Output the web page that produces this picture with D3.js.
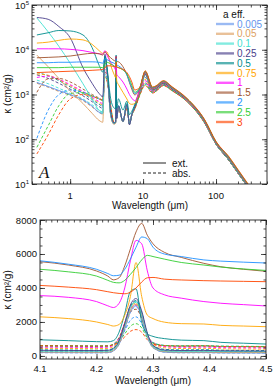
<!DOCTYPE html>
<html>
<head>
<meta charset="utf-8">
<script src="https://cdn.jsdelivr.net/npm/d3@7"></script>
<style>
  body { margin: 0; background: #fff; }
  svg { font-family: "Liberation Sans", Arial, sans-serif; }
</style>
</head>
<body>
<svg id="chart" width="274" height="387"></svg>
<script>
// grain sizes (a eff., micron) and their colours
var sizes = ["0.005", "0.05", "0.1", "0.25", "0.5", "0.75", "1", "1.5", "2", "2.5", "3"];
var colors = ["#6495ed", "#dd9f62", "#40e0d0", "#483d8b", "#008b8b", "#ffa500",
              "#ff00ff", "#a0522d", "#1e90ff", "#32cd32", "#ff4500"];

// top panel: wavelength grid (micron) and kappa (cm2/g), one row per size
var waveTop = [0.35, 0.5, 0.7, 1, 1.5, 2, 2.5, 2.8, 3.0, 3.2, 3.6, 4.0, 4.2, 4.27, 4.35, 4.6, 5.3,
               6.0, 6.5, 7.0, 7.7, 9, 10.7, 13.5, 15, 19, 25, 40, 70, 100, 150, 200, 300];

var extTop = [
  [1860,1510,1230,1000,760,550,400,380, 7000,3550,355,224,240,6300,300,560,250,630,220,355,560, 1200,2880,1260,1350,1780,1320,740,240,79,35,18,7],
  [7590,4170,2290,1200,630,380,263,240, 7080,3550,340,215,230,6300,290,550,245,620,215,350,550, 1190,2880,1260,1350,1780,1320,740,240,79,35,18,7],
  [51300,25100,12000,5010,1740,794,437,380, 7080,3600,360,225,240,6400,300,560,250,630,222,355,560, 1200,2900,1270,1360,1790,1330,745,242,80,35,18,7],
  [52500,47900,33100,18600,3980,1780,1050,890, 7940,4000,400,230,240,6600,290,560,250,600,210,355,525, 1200,2880,1280,1370,1800,1340,750,245,81,36,18.5,7.2],
  [21400,24000,26900,26300,21400,11200,4470,3160, 7080,3980,800,500,480,7600,500,800,450,710,355,420,600, 1260,2950,1300,1390,1820,1350,760,248,82,36,18.5,7.2],
  [14100,14800,16200,17400,16600,13200,9550,8300, 9100,8900,4470,2820,2400,6600,2000,1660,1120,794,631,603,631, 1260,3020,1320,1410,1860,1380,770,252,83,37,19,7.4],
  [10500,10500,10500,10200,9550,8710,8130,7940, 9550,7590,5250,4170,3550,7080,2820,2510,1900,1320,1000,830,724, 1300,3090,1350,1440,1900,1400,780,256,85,38,19.5,7.6],
  [6610,6760,6920,7240,7940,8320,8130,7590, 8910,7940,6610,5750,5620,7080,5500,5370,4170,2750,1860,1320,980, 1350,3160,1380,1470,1930,1420,790,260,86,38.5,19.8,7.7],
  [5130,5130,5250,5250,5370,5370,5250,5010, 6310,6030,5370,5010,4790,6310,4570,4370,3630,2750,1950,1450,1050, 1380,3240,1410,1500,1970,1440,800,264,87,39,20,7.8],
  [3980,3980,3980,4070,4070,4070,4070,3980, 4790,5250,4790,4370,4170,5620,4070,3980,3550,2880,2190,1620,1120, 1410,3310,1440,1530,2000,1460,810,268,88,40,20.5,8],
  [3090,3160,3240,3310,3390,3470,3550,3630, 3980,4370,4370,4170,4170,5250,4170,3980,3630,3090,2510,1910,1260, 1450,3390,1470,1560,2040,1490,820,272,89,41,21,8.2]
];

var absTop = [
  [1820,1480,1200,980,745,540,392,372, 6900,3500,348,220,235,6200,295,550,245,620,216,348,550, 1180,2830,1240,1330,1750,1300,728,236,78,34,17.6,6.9],
  [1780,1450,1170,955,724,525,398,363, 6950,3520,345,218,232,6250,292,545,243,615,214,345,545, 1170,2820,1235,1325,1745,1295,726,235,78,34,17.5,6.9],
  [2090,1740,1380,1070,794,589,447,407, 6800,3480,350,222,236,6150,296,550,246,615,216,348,548, 1175,2800,1230,1320,1740,1290,724,235,78,34,17.5,6.9],
  [2750,2290,1780,1320,933,692,537,490, 6310,3390,355,224,238,5750,298,550,248,600,217,350,545, 1160,2690,1220,1310,1730,1285,722,235,78,34,17.5,6.9],
  [3090,2630,2040,1480,1050,776,603,550, 5010,3160,380,226,240,4790,300,540,250,580,220,350,535, 1130,2400,1200,1290,1700,1270,718,234,78,34,17.5,6.9],
  [2880,2690,2140,1580,1120,832,646,589, 4170,2950,420,228,242,4170,302,530,252,560,222,350,525, 1100,2190,1180,1270,1680,1260,714,233,78,34,17.5,6.9],
  [2400,2570,2190,1660,1170,871,692,631, 3720,2750,450,230,244,3720,304,520,254,545,224,350,515, 1070,2040,1160,1250,1660,1250,710,232,78,34,17.5,6.9],
  [1120,2240,2290,1910,1320,1000,832,759, 3160,2510,500,232,246,3160,306,510,256,525,226,348,500, 1030,1860,1130,1220,1630,1240,706,231,78,34,17.5,6.9],
  [105,447,1000,1260,1120,933,794,741, 2820,2290,520,234,248,2820,308,500,258,510,228,346,490, 1000,1740,1110,1200,1610,1230,702,230,78,34,17.5,6.9],
  [66,200,562,1050,1100,933,794,741, 2570,2140,540,236,250,2570,310,495,260,500,230,344,480, 980,1660,1090,1185,1590,1220,698,229,78,34,17.5,6.9],
  [47,126,355,794,1000,912,794,741, 2400,2000,555,238,252,2400,312,490,262,490,232,342,470, 960,1590,1070,1170,1570,1210,694,228,78,34,17.5,6.9]
];

// bottom panel: zoom on the 4.27 micron band
var waveBot = [4.10, 4.15, 4.20, 4.22, 4.23, 4.24, 4.25, 4.26, 4.27, 4.28, 4.29, 4.30, 4.32, 4.35, 4.39, 4.42, 4.46, 4.50];

var extBot = [
  [200,195,190,200,300,700,1600,2600,2950,2300,1150,500,230,195,200,185,180,175],
  [230,225,220,230,330,750,1700,2700,3050,2400,1200,520,260,225,230,215,210,205],
  [280,275,270,280,390,820,1800,2850,3200,2500,1250,560,300,270,280,260,255,250],
  [330,322,315,330,450,900,1900,3000,3380,2650,1350,620,350,320,330,305,298,290],
  [950,900,840,830,900,1400,2500,3800,3950,2000,1300,1150,1020,930,900,800,750,700],
  [2300,2200,2000,1850,1760,1850,2400,3500,5500,3500,2400,2200,1990,1900,1880,1800,1760,1720],
  [3550,3450,3200,2950,2850,3100,4000,5600,6800,6600,5000,4000,3600,3400,3200,3100,3020,2940],
  [5550,5350,5000,4700,4480,4600,5300,6300,7300,7800,7100,6600,6100,5800,5450,5250,5100,4980],
  [5600,5400,5100,4850,4720,4750,5100,5700,6400,7000,6900,6400,6000,5850,5650,5580,5520,5470],
  [5100,4950,4700,4450,4330,4300,4450,4800,5200,5650,5920,5850,5700,5500,5350,5230,5120,5030],
  [4150,4050,3900,3780,3720,3680,3660,3750,4000,4350,4600,4620,4520,4470,4430,4410,4390,4370]
];

var absBot = [
  [190,185,180,190,290,680,1550,2550,2900,2250,1100,480,220,185,190,175,170,165],
  [215,210,205,215,315,720,1650,2650,3000,2350,1150,500,245,210,215,200,195,190],
  [250,245,240,250,360,780,1750,2800,3150,2450,1200,530,275,245,255,235,230,225],
  [290,283,276,290,400,840,1820,2900,3250,2550,1280,580,315,285,295,270,263,255],
  [360,350,340,355,470,920,1950,2950,3250,2500,1250,600,390,355,365,340,330,320],
  [450,440,430,445,560,980,1950,2900,3100,2400,1250,680,480,440,450,420,410,400],
  [520,510,500,515,640,1050,1950,2800,3000,2350,1250,740,550,510,520,490,480,470],
  [580,570,560,575,700,1080,1900,2600,2750,2200,1250,790,610,570,580,550,540,530],
  [600,590,580,590,680,950,1500,2100,2300,1900,1150,780,620,590,600,570,560,550],
  [610,600,590,600,680,880,1300,1750,1900,1650,1050,750,620,595,605,575,565,555],
  [600,590,580,590,660,820,1120,1450,1550,1400,950,700,600,580,590,560,550,540]
];

var topXTicks = [1, 10, 100];
var topYTicks = [10, 100, 1000, 10000, 100000];
var botXTicks = [4.1, 4.2, 4.3, 4.4, 4.5];
var botYTicks = [0, 2000, 4000, 6000, 8000];

var svg = d3.select("#chart");
var topBox = {left: 32, right: 267, top: 5, bottom: 184};
var botBox = {left: 40, right: 266, top: 220, bottom: 359};

var xTop = d3.scaleLog().domain([0.3, 500]).range([topBox.left, topBox.right]);
var yTop = d3.scaleLog().domain([10, 100000]).range([topBox.bottom, topBox.top]);
var xBot = d3.scaleLinear().domain([4.1, 4.5]).range([botBox.left, botBox.right]);
var yBot = d3.scaleLinear().domain([-180, 8000]).range([botBox.bottom, botBox.top]);

function clip(id, box) {
  svg.append("clipPath").attr("id", id)
    .append("rect")
      .attr("x", box.left).attr("y", box.top)
      .attr("width", box.right - box.left).attr("height", box.bottom - box.top);
}
clip("clipTop", topBox);
clip("clipBot", botBox);

function drawLines(id, x, y, waves, ext, abs) {
  var g = svg.append("g").attr("clip-path", "url(#" + id + ")");
  var line = d3.line()
      .x(function(d, i) { return x(waves[i]); })
      .y(function(d) { return y(d); })
      .curve(d3.curveMonotoneX);
  sizes.forEach(function(s, k) {
    g.append("path").datum(abs[k])
      .attr("d", line).attr("fill", "none")
      .attr("stroke", colors[k]).attr("stroke-width", 0.9)
      .attr("stroke-dasharray", "3,2");
  });
  sizes.forEach(function(s, k) {
    g.append("path").datum(ext[k])
      .attr("d", line).attr("fill", "none")
      .attr("stroke", colors[k]).attr("stroke-width", 0.9);
  });
}
drawLines("clipTop", xTop, yTop, waveTop, extTop, absTop);
drawLines("clipBot", xBot, yBot, waveBot, extBot, absBot);

// frame with inward ticks on all four sides
function frame(box, x, y, xMajor, xMinor, yMajor, yMinor) {
  var g = svg.append("g");
  var sides = [
    [d3.axisBottom(x), box.bottom, true], [d3.axisTop(x), box.top, true],
    [d3.axisLeft(y), box.left, false], [d3.axisRight(y), box.right, false]
  ];
  sides.forEach(function(sd) {
    var isX = sd[2];
    [[isX ? xMinor : yMinor, -2.5], [isX ? xMajor : yMajor, -5]].forEach(function(t) {
      var ax = sd[0].tickValues(t[0]).tickSize(t[1]).tickFormat("");
      var a = g.append("g")
        .attr("transform", isX ? "translate(0," + sd[1] + ")" : "translate(" + sd[1] + ",0)")
        .call(ax);
      a.select(".domain").remove();
      a.selectAll("line").attr("stroke", "#222").attr("stroke-width", 0.8);
    });
  });
  g.append("rect")
    .attr("x", box.left).attr("y", box.top)
    .attr("width", box.right - box.left).attr("height", box.bottom - box.top)
    .attr("fill", "none").attr("stroke", "#222").attr("stroke-width", 0.9);
}

var topMinorX = xTop.ticks().filter(function(v) { return v >= 0.3 && v <= 500; });
var topMinorY = yTop.ticks();
frame(topBox, xTop, yTop, topXTicks, topMinorX, topYTicks, topMinorY);
frame(botBox, xBot, yBot, botXTicks, d3.range(4.1, 4.5001, 0.01), botYTicks, d3.range(0, 8001, 500));

var labels = svg.append("g").attr("font-size", 9.5).attr("fill", "#111");

// top panel tick labels
labels.selectAll(".tx").data(topXTicks).enter().append("text")
    .attr("x", function(d) { return xTop(d); })
    .attr("y", topBox.bottom + 14.5)
    .attr("text-anchor", "middle")
    .text(function(d) { return d; });

topYTicks.forEach(function(d) {
  var t = labels.append("text")
      .attr("x", topBox.left - 3)
      .attr("y", yTop(d) + 3.5)
      .attr("text-anchor", "end");
  t.append("tspan").text("10");
  t.append("tspan").attr("dy", -3.5).attr("font-size", 6).text(Math.round(Math.log10(d)));
});

// bottom panel tick labels
labels.selectAll(".bx").data(botXTicks).enter().append("text")
    .attr("x", function(d) { return xBot(d); })
    .attr("y", botBox.bottom + 12.5)
    .attr("text-anchor", "middle")
    .text(function(d) { return d3.format(".1f")(d); });

labels.selectAll(".by").data(botYTicks).enter().append("text")
    .attr("x", botBox.left - 3)
    .attr("y", function(d) { return yBot(d) + 3.5; })
    .attr("text-anchor", "end")
    .text(function(d) { return d; });

// axis titles
var titles = svg.append("g").attr("font-size", 10).attr("fill", "#111");
titles.append("text").attr("x", 150).attr("y", 209).attr("text-anchor", "middle").text("Wavelength (\u03bcm)");
titles.append("text").attr("x", 153).attr("y", 384).attr("text-anchor", "middle").text("Wavelength (\u03bcm)");
titles.append("text").attr("transform", "translate(11,94) rotate(-90)")
    .attr("text-anchor", "middle").text("\u03ba (cm\u00b2/g)");
titles.append("text").attr("transform", "translate(11,290) rotate(-90)")
    .attr("text-anchor", "middle").text("\u03ba (cm\u00b2/g)");

// size legend
var leg = svg.append("g").attr("font-size", 10);
leg.append("text").attr("x", 223).attr("y", 17.5).attr("fill", "#111").text("a eff.");
var items = leg.selectAll(".it").data(sizes).enter().append("g")
    .attr("transform", function(d, i) { return "translate(0," + (24 + i * 9.8) + ")"; });
items.append("line")
    .attr("x1", 216).attr("x2", 234)
    .attr("stroke", function(d, i) { return colors[i]; })
    .attr("stroke-width", 2.4).attr("stroke-opacity", 0.65);
items.append("text")
    .attr("x", 237).attr("y", 3.6)
    .attr("fill", function(d, i) { return colors[i]; })
    .text(function(d) { return d; });

// ext / abs legend
var leg2 = svg.append("g").attr("font-size", 10).attr("fill", "#111");
[["ext.", null, 163], ["abs.", "3,2", 173]].forEach(function(r) {
  leg2.append("line").attr("x1", 143).attr("x2", 166).attr("y1", r[2]).attr("y2", r[2])
      .attr("stroke", "#222").attr("stroke-width", 1).attr("stroke-dasharray", r[1]);
  leg2.append("text").attr("x", 172).attr("y", r[2] + 3.5).text(r[0]);
});

svg.append("text").attr("x", 39).attr("y", 178)
    .attr("font-family", "'Liberation Serif', 'DejaVu Serif', serif")
    .attr("font-style", "italic").attr("font-size", 17).attr("fill", "#111")
    .text("A");
</script>
</body>
</html>
